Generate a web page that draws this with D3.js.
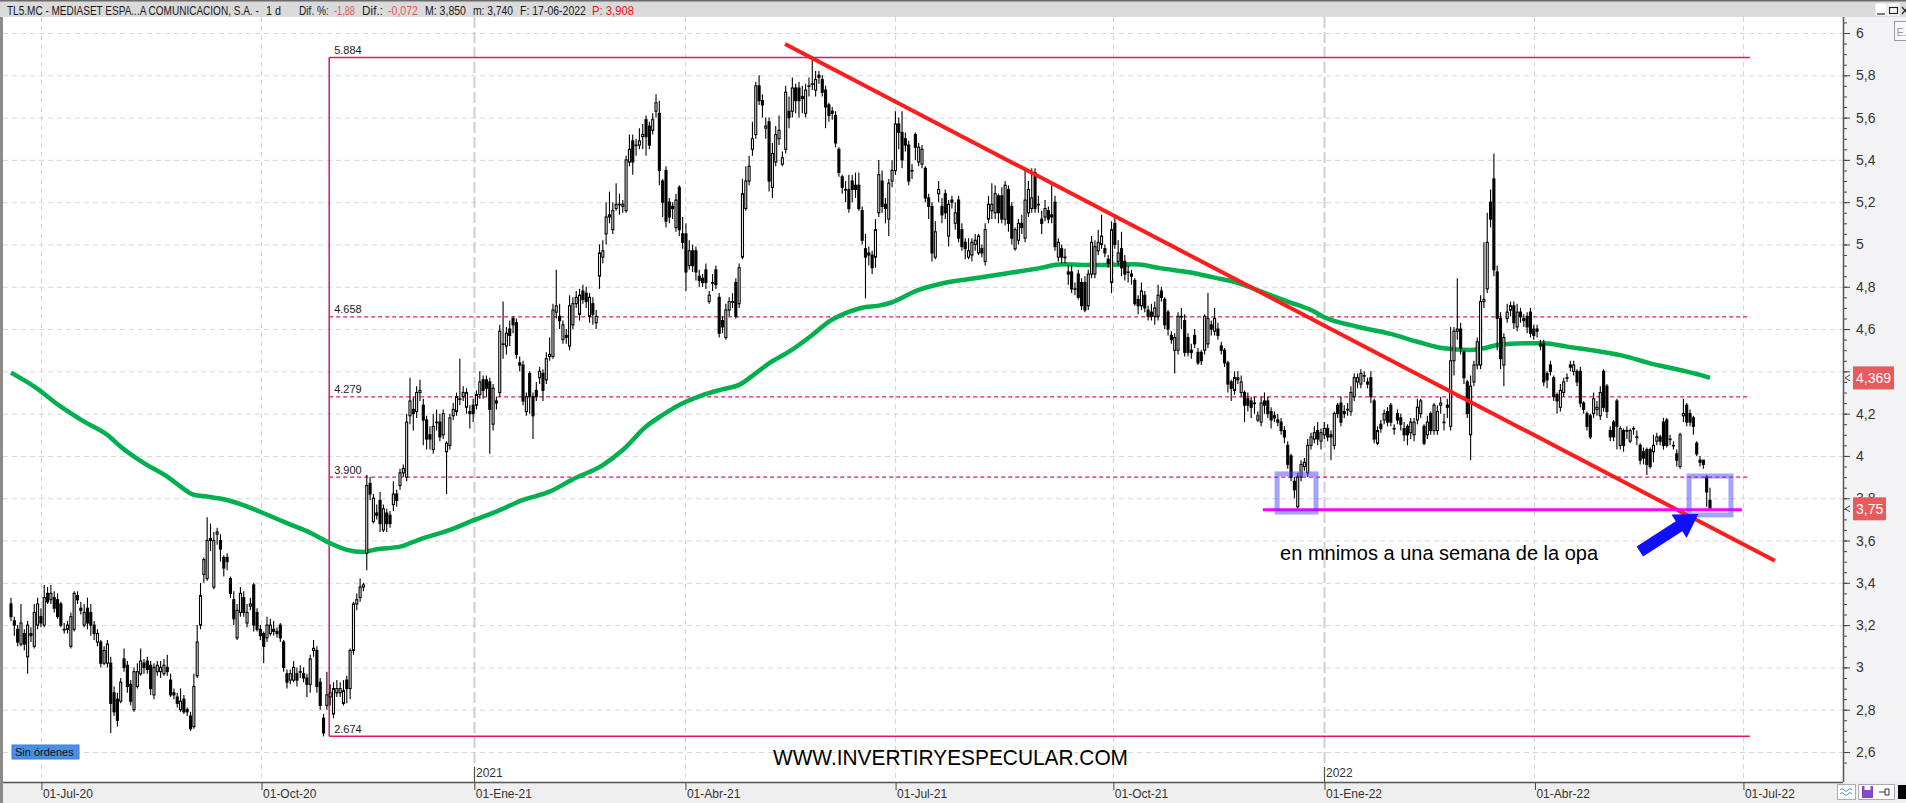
<!DOCTYPE html>
<html><head><meta charset="utf-8">
<script src="https://cdn.jsdelivr.net/npm/d3@7"></script>
<style>
html,body{margin:0;padding:0;background:#fff;overflow:hidden}
svg{display:block}
text{font-family:"Liberation Sans",Arial,sans-serif}
</style></head><body>
<svg id="c" width="1906" height="803"></svg>
<script>
// ---------- DATA (daily candles) ----------
const openP = [
3.30,3.22,3.18,3.11,3.16,3.05,3.16,3.10,3.20,3.24,
3.20,3.35,3.32,3.33,3.32,3.30,3.18,3.18,3.10,3.18,
3.34,3.28,3.20,3.28,3.26,3.20,3.12,3.12,3.02,3.02,
3.02,2.88,2.85,2.84,3.04,3.01,2.92,2.80,2.91,2.97,
3.02,3.03,3.01,2.87,2.98,2.98,2.97,3.00,2.94,2.88,
2.86,2.80,2.85,2.80,2.77,2.72,2.96,3.20,3.44,3.42,
3.60,3.38,3.63,3.60,3.52,3.52,3.42,3.32,3.14,3.26,
3.33,3.21,3.29,3.39,3.26,3.18,3.16,3.14,3.16,3.18,
3.17,3.20,3.12,2.97,2.94,2.94,2.97,2.98,2.97,2.95,
2.92,3.08,3.08,2.93,2.76,2.82,2.86,2.78,2.88,2.88,
2.83,2.94,2.90,3.08,3.30,3.33,3.38,3.54,3.87,3.69,
3.73,3.79,3.65,3.73,3.72,3.77,3.82,3.86,3.92,3.90,
4.19,4.22,4.21,4.30,4.24,4.17,4.10,4.03,4.16,4.16,
4.10,4.02,4.05,4.19,4.21,4.27,4.28,4.23,4.21,4.24,
4.24,4.29,4.36,4.36,4.35,4.15,4.26,4.30,4.53,4.52,
4.60,4.65,4.63,4.44,4.43,4.21,4.39,4.28,4.31,4.37,
4.39,4.36,4.47,4.47,4.68,4.66,4.55,4.57,4.52,4.62,
4.72,4.67,4.78,4.77,4.66,4.72,4.63,4.85,4.94,5.05,
5.13,5.07,5.17,5.19,5.18,5.16,5.39,5.49,5.47,5.47,
5.51,5.59,5.56,5.54,5.63,5.62,5.30,5.35,5.20,5.18,
5.08,5.27,5.05,5.05,4.90,4.97,4.97,4.85,4.84,4.88,
4.73,4.82,4.88,4.75,4.64,4.56,4.69,4.73,4.82,4.72,
4.94,5.17,5.30,5.45,5.52,5.75,5.68,5.55,5.58,5.27,
5.39,5.50,5.38,5.45,5.63,5.63,5.74,5.74,5.70,5.62,
5.75,5.76,5.73,5.80,5.78,5.73,5.66,5.63,5.61,5.45,
5.32,5.26,5.26,5.30,5.28,5.28,5.16,4.98,4.96,4.95,
4.94,5.15,5.30,5.19,5.12,5.30,5.35,5.57,5.53,5.50,
5.47,5.35,5.52,5.39,5.38,5.36,5.22,5.18,4.94,5.24,
5.18,5.24,5.04,5.21,5.10,5.21,5.07,5.01,4.94,4.95,
5.00,4.96,4.98,4.92,5.12,5.16,5.15,5.23,5.23,5.12,
5.26,5.18,4.98,5.02,5.10,5.03,5.15,5.17,5.34,5.19,
5.12,5.13,5.16,5.14,5.20,4.94,4.98,4.94,4.87,4.87,
4.79,4.86,4.82,4.82,4.71,4.86,4.86,4.97,5.00,4.98,
4.93,4.82,5.10,4.92,4.98,4.92,4.87,4.86,4.83,4.74,
4.71,4.76,4.69,4.68,4.66,4.66,4.78,4.74,4.68,4.57,
4.50,4.50,4.66,4.64,4.56,4.50,4.57,4.49,4.49,4.50,
4.53,4.62,4.59,4.60,4.52,4.50,4.44,4.35,4.31,4.37,
4.30,4.30,4.27,4.26,4.25,4.17,4.16,4.26,4.26,4.21,
4.19,4.17,4.16,4.12,4.05,4.00,3.88,3.76,3.90,3.95,
3.92,4.05,4.08,4.12,4.07,4.10,4.13,4.10,4.05,4.24,
4.25,4.21,4.22,4.21,4.28,4.35,4.34,4.38,4.35,4.37,
4.26,4.06,4.15,4.17,4.21,4.24,4.13,4.20,4.18,4.13,
4.14,4.11,4.10,4.17,4.20,4.14,4.10,4.20,4.12,4.12,
4.24,4.16,4.24,4.14,4.45,4.59,4.60,4.49,4.35,4.10,
4.35,4.43,4.43,4.73,4.79,5.20,5.31,4.87,4.65,4.43,
4.65,4.69,4.71,4.61,4.68,4.65,4.66,4.68,4.60,4.60,
4.53,4.53,4.39,4.43,4.37,4.29,4.23,4.30,4.37,4.43,
4.40,4.40,4.40,4.25,4.20,4.19,4.20,4.22,4.19,4.40,
4.33,4.12,4.16,4.26,4.05,4.12,4.12,4.07,4.13,4.09,
4.05,4.02,4.03,4.03,4.02,4.07,4.09,4.16,4.17,4.08,
4.05,4.01,3.95,4.19,4.24,4.20,4.18,4.06,3.98,3.98,
3.90,3.79];
const highP = [
3.33,3.24,3.20,3.30,3.18,3.22,3.19,3.30,3.33,3.28,
3.39,3.38,3.39,3.36,3.35,3.31,3.21,3.22,3.26,3.36,
3.36,3.31,3.30,3.33,3.30,3.22,3.18,3.13,3.10,3.13,
3.05,2.91,2.88,2.95,3.09,3.03,2.94,3.00,3.02,3.09,
3.04,3.05,3.03,3.02,3.03,3.03,3.04,3.06,2.97,2.90,
2.88,2.90,2.87,2.81,2.79,2.97,3.20,3.40,3.52,3.71,
3.68,3.64,3.66,3.63,3.53,3.54,3.43,3.36,3.30,3.38,
3.36,3.30,3.33,3.40,3.28,3.20,3.17,3.24,3.23,3.22,
3.19,3.21,3.13,2.99,2.99,3.03,3.00,3.01,3.00,2.97,
3.06,3.13,3.10,2.95,2.78,2.98,2.92,2.93,2.94,2.93,
2.94,2.96,3.09,3.31,3.35,3.42,3.40,3.91,3.90,3.82,
3.77,3.83,3.77,3.75,3.74,3.88,3.84,3.94,3.96,4.20,
4.37,4.28,4.33,4.36,4.27,4.19,4.14,4.20,4.22,4.20,
4.22,4.07,4.20,4.25,4.30,4.46,4.33,4.32,4.24,4.27,
4.31,4.40,4.38,4.38,4.37,4.34,4.28,4.62,4.73,4.61,
4.64,4.66,4.65,4.47,4.45,4.30,4.40,4.30,4.35,4.42,
4.41,4.49,4.56,4.72,4.88,4.72,4.64,4.60,4.76,4.75,
4.78,4.79,4.81,4.80,4.77,4.75,4.69,5.00,5.02,5.20,
5.25,5.20,5.29,5.24,5.21,5.42,5.52,5.52,5.50,5.55,
5.57,5.61,5.58,5.62,5.71,5.68,5.31,5.37,5.22,5.20,
5.24,5.28,5.13,5.10,5.02,5.00,4.99,4.88,4.86,4.91,
4.78,4.86,4.90,4.77,4.66,4.72,4.75,4.77,4.84,4.91,
5.31,5.37,5.42,5.58,5.77,5.80,5.71,5.60,5.60,5.48,
5.56,5.61,5.44,5.75,5.70,5.79,5.76,5.77,5.75,5.76,
5.79,5.884,5.82,5.82,5.80,5.75,5.67,5.65,5.63,5.46,
5.33,5.30,5.33,5.33,5.34,5.34,5.18,5.05,4.99,4.97,
5.12,5.40,5.35,5.22,5.31,5.40,5.63,5.60,5.63,5.53,
5.49,5.38,5.53,5.48,5.47,5.37,5.24,5.20,5.11,5.30,
5.22,5.26,5.21,5.23,5.20,5.23,5.10,5.03,5.03,5.03,
5.05,5.05,5.00,5.10,5.23,5.29,5.28,5.24,5.27,5.30,
5.28,5.20,5.08,5.12,5.14,5.36,5.30,5.36,5.36,5.23,
5.16,5.21,5.18,5.28,5.23,5.03,5.00,4.98,4.90,4.90,
4.82,4.88,4.84,4.85,4.88,5.04,5.02,5.07,5.14,5.00,
4.95,5.11,5.13,5.02,5.06,4.95,4.90,4.88,4.84,4.76,
4.82,4.78,4.71,4.72,4.73,4.81,4.80,4.75,4.69,4.59,
4.58,4.68,4.70,4.67,4.58,4.53,4.60,4.51,4.50,4.67,
4.77,4.64,4.70,4.63,4.54,4.51,4.45,4.36,4.40,4.40,
4.38,4.31,4.30,4.28,4.28,4.21,4.28,4.30,4.28,4.23,
4.21,4.20,4.18,4.14,4.07,4.01,3.90,3.92,3.98,3.99,
4.08,4.11,4.14,4.16,4.13,4.16,4.15,4.12,4.21,4.25,
4.28,4.24,4.25,4.33,4.39,4.39,4.41,4.40,4.37,4.40,
4.27,4.14,4.17,4.22,4.23,4.25,4.15,4.22,4.20,4.16,
4.15,4.18,4.18,4.27,4.27,4.15,4.19,4.21,4.25,4.24,
4.28,4.20,4.27,4.61,4.61,4.84,4.63,4.50,4.36,4.38,
4.45,4.56,4.76,5.01,5.15,5.26,5.43,4.90,4.68,4.58,
4.72,4.73,4.73,4.72,4.70,4.67,4.68,4.70,4.62,4.62,
4.55,4.55,4.40,4.45,4.38,4.30,4.34,4.37,4.39,4.45,
4.45,4.41,4.42,4.26,4.21,4.20,4.30,4.26,4.33,4.41,
4.34,4.14,4.17,4.27,4.14,4.13,4.14,4.13,4.14,4.12,
4.06,4.04,4.04,4.04,4.10,4.11,4.10,4.18,4.18,4.10,
4.07,4.03,4.11,4.27,4.25,4.22,4.19,4.07,4.00,3.98,
3.91,3.85];
const lowP = [
3.22,3.15,3.10,3.10,3.08,2.97,3.12,3.09,3.18,3.19,
3.19,3.30,3.30,3.26,3.23,3.19,3.16,3.16,3.09,3.17,
3.30,3.25,3.19,3.18,3.15,3.13,3.10,3.00,3.01,3.00,
2.69,2.77,2.72,2.83,2.98,2.88,2.82,2.79,2.90,2.96,
2.97,2.97,2.87,2.85,2.96,2.95,2.96,2.96,2.86,2.85,
2.81,2.79,2.78,2.77,2.70,2.71,2.95,3.18,3.40,3.41,
3.55,3.37,3.58,3.50,3.43,3.46,3.33,3.20,3.13,3.24,
3.24,3.19,3.27,3.17,3.17,3.13,3.02,3.12,3.15,3.15,
3.14,3.12,2.98,2.90,2.92,2.93,2.91,2.95,2.93,2.86,
2.88,3.05,2.88,2.80,2.674,2.80,2.82,2.76,2.86,2.86,
2.82,2.83,2.85,3.06,3.27,3.31,3.36,3.46,3.79,3.68,
3.70,3.64,3.64,3.64,3.66,3.74,3.76,3.84,3.90,3.88,
4.15,4.12,4.18,4.26,4.05,4.03,4.03,4.01,4.12,4.07,
4.08,3.82,4.03,4.17,4.19,4.24,4.26,4.20,4.13,4.16,
4.22,4.27,4.27,4.28,4.01,4.12,4.22,4.28,4.46,4.48,
4.52,4.58,4.46,4.40,4.24,4.19,4.20,4.08,4.26,4.34,
4.26,4.34,4.45,4.46,4.65,4.60,4.53,4.53,4.50,4.60,
4.70,4.64,4.72,4.70,4.63,4.62,4.60,4.79,4.91,5.00,
5.10,5.05,5.16,5.14,5.15,5.15,5.37,5.33,5.42,5.45,
5.45,5.42,5.45,5.52,5.60,5.28,5.13,5.08,5.10,5.12,
5.06,5.04,4.98,4.78,4.88,4.87,4.83,4.80,4.80,4.79,
4.72,4.78,4.79,4.56,4.58,4.55,4.66,4.70,4.65,4.70,
4.93,5.16,5.28,5.42,5.50,5.66,5.60,5.50,5.25,5.22,
5.37,5.47,5.37,5.43,5.55,5.60,5.62,5.60,5.62,5.60,
5.70,5.73,5.70,5.76,5.70,5.55,5.58,5.59,5.46,5.32,
5.24,5.20,5.15,5.20,5.22,5.16,5.00,4.745,4.90,4.86,
4.89,5.13,5.15,5.10,5.04,5.27,5.33,5.45,5.36,5.44,
5.28,5.31,5.40,5.37,5.36,5.20,5.12,4.92,4.93,5.20,
5.10,5.12,4.99,5.17,5.07,5.01,4.97,4.93,4.93,4.92,
4.97,4.95,4.94,4.90,5.10,5.12,5.12,5.10,5.10,5.09,
5.06,5.00,4.97,5.00,5.05,5.01,5.13,5.15,5.15,5.15,
5.05,5.11,5.10,5.10,4.97,4.92,4.91,4.91,4.81,4.77,
4.76,4.74,4.69,4.68,4.69,4.84,4.84,4.95,4.98,4.94,
4.89,4.77,4.98,4.90,4.85,4.83,4.82,4.81,4.71,4.67,
4.69,4.68,4.64,4.64,4.62,4.64,4.73,4.60,4.57,4.53,
4.39,4.48,4.60,4.47,4.47,4.46,4.51,4.43,4.43,4.48,
4.51,4.57,4.57,4.55,4.48,4.42,4.30,4.26,4.29,4.34,
4.28,4.16,4.21,4.18,4.20,4.16,4.14,4.20,4.18,4.13,
4.16,4.14,4.10,4.06,3.94,3.88,3.80,3.745,3.88,3.93,
3.90,4.03,4.06,4.05,4.03,4.08,4.07,3.98,4.03,4.18,
4.14,4.18,4.19,4.19,4.26,4.32,4.32,4.35,4.32,4.25,
4.06,4.05,4.11,4.15,4.14,4.14,4.10,4.15,4.12,4.07,
4.05,4.08,4.07,4.15,4.18,4.05,4.08,4.10,4.10,4.10,
4.20,4.12,4.18,4.12,4.38,4.55,4.48,4.34,4.18,3.98,
4.33,4.41,4.41,4.70,4.77,5.08,4.85,4.50,4.41,4.33,
4.63,4.66,4.60,4.59,4.63,4.61,4.58,4.56,4.55,4.56,
4.50,4.33,4.32,4.38,4.26,4.20,4.21,4.28,4.35,4.40,
4.38,4.33,4.23,4.20,4.12,4.08,4.18,4.19,4.17,4.21,
4.18,4.07,4.07,4.03,4.03,4.02,4.08,4.06,4.10,4.05,
3.96,3.96,3.91,3.94,3.97,4.05,4.05,4.03,4.04,4.05,
4.03,3.95,3.94,4.16,4.14,4.14,4.10,4.00,3.95,3.94,
3.76,3.74];
const closeP = [
3.24,3.20,3.12,3.21,3.11,3.20,3.15,3.26,3.30,3.21,
3.33,3.31,3.35,3.28,3.24,3.20,3.18,3.20,3.24,3.35,
3.32,3.27,3.26,3.21,3.20,3.16,3.16,3.02,3.08,3.11,
2.83,2.79,2.75,2.93,3.00,2.91,2.84,2.98,2.98,3.03,
3.00,2.99,2.90,3.00,3.01,3.00,3.01,2.98,2.87,2.87,
2.83,2.84,2.79,2.79,2.71,2.91,3.12,3.34,3.51,3.60,
3.61,3.60,3.64,3.56,3.47,3.50,3.35,3.23,3.27,3.35,
3.26,3.26,3.30,3.20,3.18,3.15,3.10,3.20,3.20,3.17,
3.16,3.14,3.00,2.93,2.97,3.00,2.94,2.98,2.95,2.92,
3.04,3.09,2.91,2.82,2.69,2.87,2.88,2.90,2.90,2.90,
2.89,2.90,3.08,3.30,3.32,3.38,3.39,3.86,3.82,3.80,
3.72,3.68,3.75,3.68,3.68,3.82,3.79,3.92,3.94,4.16,
4.26,4.20,4.30,4.31,4.17,4.08,4.08,4.14,4.16,4.09,
4.20,4.06,4.18,4.22,4.28,4.27,4.30,4.30,4.20,4.20,
4.29,4.35,4.31,4.32,4.22,4.32,4.25,4.59,4.53,4.58,
4.57,4.62,4.48,4.43,4.26,4.28,4.28,4.19,4.28,4.40,
4.31,4.46,4.48,4.69,4.71,4.64,4.62,4.56,4.71,4.72,
4.75,4.76,4.74,4.73,4.75,4.67,4.66,4.96,4.97,5.13,
5.14,5.16,5.19,5.19,5.19,5.40,5.45,5.39,5.47,5.49,
5.52,5.51,5.47,5.59,5.67,5.35,5.20,5.11,5.13,5.17,
5.21,5.07,5.01,4.87,4.97,4.90,4.87,4.83,4.82,4.82,
4.76,4.82,4.81,4.58,4.61,4.69,4.73,4.73,4.66,4.89,
5.24,5.30,5.37,5.50,5.75,5.68,5.66,5.56,5.30,5.43,
5.52,5.54,5.41,5.72,5.60,5.74,5.68,5.68,5.69,5.73,
5.75,5.76,5.78,5.79,5.72,5.65,5.61,5.62,5.48,5.34,
5.27,5.26,5.17,5.26,5.26,5.17,5.02,4.94,4.95,4.89,
5.07,5.33,5.18,5.17,5.29,5.35,5.57,5.53,5.40,5.47,
5.30,5.35,5.46,5.46,5.45,5.22,5.18,4.96,5.06,5.26,
5.14,5.15,5.19,5.20,5.15,5.03,4.99,4.98,4.97,5.01,
5.02,5.04,4.96,5.07,5.19,5.19,5.24,5.15,5.12,5.28,
5.10,5.03,5.07,5.10,5.08,5.21,5.26,5.22,5.17,5.19,
5.10,5.17,5.12,5.13,4.99,5.01,4.94,4.94,4.86,4.79,
4.79,4.75,4.71,4.69,4.86,5.01,4.99,5.01,5.04,4.96,
4.91,5.07,5.00,4.96,4.89,4.86,4.87,4.85,4.72,4.71,
4.78,4.70,4.66,4.66,4.70,4.76,4.75,4.62,4.60,4.55,
4.56,4.66,4.66,4.49,4.49,4.49,4.53,4.44,4.45,4.66,
4.65,4.60,4.65,4.57,4.50,4.44,4.34,4.32,4.37,4.36,
4.35,4.24,4.24,4.23,4.25,4.19,4.25,4.24,4.20,4.17,
4.18,4.16,4.12,4.09,3.96,3.90,3.84,3.90,3.96,3.97,
4.05,4.09,4.11,4.08,4.11,4.13,4.09,4.09,4.20,4.20,
4.16,4.20,4.22,4.30,4.37,4.37,4.39,4.38,4.34,4.28,
4.08,4.12,4.13,4.20,4.16,4.16,4.13,4.17,4.15,4.10,
4.10,4.16,4.16,4.23,4.26,4.06,4.16,4.12,4.24,4.21,
4.25,4.16,4.23,4.45,4.59,4.60,4.51,4.37,4.20,4.33,
4.43,4.54,4.73,4.74,5.01,5.12,4.88,4.65,4.46,4.56,
4.68,4.71,4.63,4.68,4.66,4.64,4.61,4.58,4.57,4.59,
4.52,4.35,4.36,4.40,4.28,4.26,4.31,4.35,4.37,4.42,
4.43,4.35,4.25,4.22,4.14,4.09,4.27,4.23,4.30,4.23,
4.21,4.09,4.09,4.14,4.13,4.05,4.12,4.12,4.13,4.09,
3.98,3.99,3.96,3.95,4.05,4.09,4.07,4.05,4.05,4.08,
4.05,3.98,4.10,4.20,4.16,4.16,4.14,4.01,3.97,3.96,
3.83,3.75];

// moving average (green), read at sample points: candle index / value
const maIdx = [0,7,15,22,29,33,40,47,51,55,59,64,69,76,83,90,96,101,106,110,117,123,132,140,146,154,162,169,178,184,191,196,202,208,214,219,224,228,234,241,246,251,256,261,264,273,281,290,301,309,316,326,338,346,356,362,369,376,384,391,395,405,415,423,431,439,443,447,455,461,468,475,485,493,501,508,511];
const maVal = [4.394,4.328,4.233,4.162,4.099,4.044,3.966,3.902,3.855,3.816,3.808,3.795,3.772,3.729,3.682,3.637,3.587,3.556,3.546,3.559,3.571,3.606,3.650,3.701,3.737,3.792,3.831,3.890,3.957,4.028,4.139,4.194,4.249,4.288,4.315,4.336,4.391,4.438,4.493,4.572,4.635,4.675,4.701,4.711,4.722,4.785,4.819,4.840,4.867,4.887,4.906,4.903,4.906,4.887,4.864,4.843,4.819,4.777,4.730,4.690,4.656,4.611,4.577,4.540,4.509,4.501,4.509,4.525,4.533,4.533,4.517,4.501,4.473,4.438,4.410,4.383,4.369];

// axes
const xTickIdx = [9, 75.2, 139.2, 202.7, 265.9, 331.4, 394.9, 458.2, 520.9];
const xTickLabels = ["01-Jul-20","01-Oct-20","01-Ene-21","01-Abr-21","01-Jul-21","01-Oct-21","01-Ene-22","01-Abr-22","01-Jul-22"];
const yearIdx = [139.2, 394.9];
const yearLabels = ["2021","2022"];
const yTickVals = [2.6,2.8,3.0,3.2,3.4,3.6,3.8,4.0,4.2,4.4,4.6,4.8,5.0,5.2,5.4,5.6,5.8,6.0];

// annotations (data units)
const fibLevels = [5.884, 4.658, 4.279, 3.900, 2.674];
const fibLabels = ["5.884","4.658","4.279","3.900","2.674"];
const fibFromIdx = 95.7, fibToIdx = 523;
const trendIdx = [232.8, 530.5], trendVal = [5.948, 3.504];
const supportIdx = [376.5, 520.6], supportVal = 3.745;
const boxIdx0 = [380.8, 504.7], boxIdx1 = [392.5, 517.3], boxLo = [3.735, 3.721], boxHi = [3.915, 3.905];
const arrowFrom = [489.9, 3.548], arrowTo = [507.5, 3.726];
const noteText = "en mnimos a una semana de la opa", noteAt = [381.7, 3.508];
const priceTags = [{v:4.369, t:"4,369"}, {v:3.75, t:"3,75"}];

// ---------- DRAWING ----------
const W = 1906, H = 803;
const plotL = 3, plotR = 1843, plotT = 17, plotB = 782;
const svg = d3.select("#c");
const x = d3.scaleLinear().domain([0, 511]).range([11, 1710]);
const y = d3.scaleLinear().domain([2.6, 6]).range([752, 33]);

svg.append("rect").attr("width",W).attr("height",H).attr("fill","#fff");
svg.append("defs").append("clipPath").attr("id","pc").append("rect")
  .attr("x",plotL).attr("y",plotT).attr("width",plotR-plotL).attr("height",plotB-plotT);
const P = svg.append("g").attr("clip-path","url(#pc)");

// grid
P.append("g").selectAll("line").data(yTickVals).join("line")
  .attr("x1",plotL).attr("x2",plotR).attr("y1",d=>y(d)+0.5).attr("y2",d=>y(d)+0.5)
  .attr("stroke","#d6d6d6").attr("stroke-dasharray","5,4");
P.append("g").selectAll("line").data(xTickIdx).join("line")
  .attr("x1",d=>Math.round(x(d))+0.5).attr("x2",d=>Math.round(x(d))+0.5)
  .attr("y1",plotT).attr("y2",plotB)
  .attr("stroke", d=>yearIdx.includes(d) ? "#cfcfcf" : "#d6d6d6")
  .attr("stroke-width", d=>yearIdx.includes(d) ? 2 : 1)
  .attr("stroke-dasharray", d=>yearIdx.includes(d) ? "11,4" : "5,4");

// fib levels
const fibCol = "#e0166e";
P.append("line").attr("x1",x(fibFromIdx)).attr("x2",x(fibFromIdx))
  .attr("y1",y(fibLevels[0])).attr("y2",y(fibLevels[4])).attr("stroke",fibCol).attr("stroke-width",1.5);
P.append("g").selectAll("line").data(fibLevels).join("line")
  .attr("x1",x(fibFromIdx)).attr("x2",x(fibToIdx))
  .attr("y1",d=>y(d)).attr("y2",d=>y(d))
  .attr("stroke",fibCol).attr("stroke-width",(d,i)=> (i===0||i===4)?1.5:1.3)
  .attr("stroke-dasharray",(d,i)=> (i===0||i===4)?null:"4,3");
P.append("g").selectAll("text").data(fibLevels).join("text")
  .attr("x",x(fibFromIdx)+5).attr("y",d=>y(d)-3.5)
  .attr("font-size",11).attr("fill","#1a1a1a").text((d,i)=>fibLabels[i]);

// moving average
const maPts = maIdx.map((d,i)=>[x(d), y(maVal[i])]);
P.append("path").attr("d", d3.line().curve(d3.curveMonotoneX)(maPts))
  .attr("fill","none").attr("stroke","#00b04f").attr("stroke-width",4.5);

// candles
const cg = P.append("g");
const idx = d3.range(closeP.length);
cg.selectAll("line").data(idx).join("line")
  .attr("x1",i=>x(i)).attr("x2",i=>x(i))
  .attr("y1",i=>y(highP[i])).attr("y2",i=>y(lowP[i]))
  .attr("stroke","#000").attr("stroke-width",1.1);
cg.selectAll("rect").data(idx).join("rect")
  .attr("x",i=>x(i)-1).attr("width",2)
  .attr("y",i=>y(Math.max(openP[i],closeP[i])))
  .attr("height",i=>Math.max(0.6, Math.abs(y(openP[i])-y(closeP[i]))))
  .attr("fill",i=> closeP[i]>=openP[i] ? "#fff" : "#000")
  .attr("stroke","#000").attr("stroke-width",1.1);

// trend line
P.append("line").attr("x1",x(trendIdx[0])).attr("y1",y(trendVal[0]))
  .attr("x2",x(trendIdx[1])).attr("y2",y(trendVal[1]))
  .attr("stroke","#ff1c1c").attr("stroke-width",4);
// support line
P.append("line").attr("x1",x(supportIdx[0])).attr("x2",x(supportIdx[1]))
  .attr("y1",y(supportVal)).attr("y2",y(supportVal))
  .attr("stroke","#ff00ff").attr("stroke-width",3);
// boxes
P.append("g").selectAll("rect").data(boxIdx0).join("rect")
  .attr("x",(d,i)=>x(d)).attr("width",(d,i)=>x(boxIdx1[i])-x(d))
  .attr("y",(d,i)=>y(boxHi[i])).attr("height",(d,i)=>y(boxLo[i])-y(boxHi[i]))
  .attr("fill","none").attr("stroke","rgb(70,70,255)").attr("stroke-opacity",0.5).attr("stroke-width",5);
// arrow
{
  const p0=[x(arrowFrom[0]),y(arrowFrom[1])], p1=[x(arrowTo[0]),y(arrowTo[1])];
  const dx=p1[0]-p0[0], dy=p1[1]-p0[1], L=Math.hypot(dx,dy);
  const u=[dx/L,dy/L], n=[-u[1],u[0]];
  const hl=23, hw=14, sw=6;
  const b=[p1[0]-u[0]*hl, p1[1]-u[1]*hl];
  const pt=(o,k)=>[o[0]+n[0]*k, o[1]+n[1]*k];
  const poly=[pt(p0,sw),pt(b,sw),pt(b,hw),p1,pt(b,-hw),pt(b,-sw),pt(p0,-sw)];
  P.append("polygon").attr("points",poly.map(p=>p.join(",")).join(" ")).attr("fill","#1010ff");
}
// note text
P.append("text").attr("x",x(noteAt[0])).attr("y",y(noteAt[1]))
  .attr("font-size",20).attr("fill","#000").text(noteText);
// watermark
P.append("text").attr("x",773).attr("y",765).attr("font-size",22).attr("fill","#000")
  .attr("textLength",355).attr("lengthAdjust","spacingAndGlyphs").text("WWW.INVERTIRYESPECULAR.COM");
// Sin órdenes
svg.append("rect").attr("x",12).attr("y",745).attr("width",67).attr("height",14).attr("fill","#4a90e2").attr("stroke","#3a7fd0");
svg.append("text").attr("x",15).attr("y",756).attr("font-size",11).attr("fill","#111").text("Sin órdenes");

// ----- right axis panel -----
svg.append("rect").attr("x",plotR).attr("y",plotT).attr("width",W-plotR).attr("height",plotB-plotT).attr("fill","#f3f3f5");
const ya = svg.append("g").attr("transform",`translate(${plotR},0)`);
ya.call(d3.axisRight(y).tickValues(d3.range(2.55,6.06,0.05)).tickSize(4).tickFormat(""));
ya.call(g=>g.select(".domain").remove());
// labels hidden behind a price tag in the reference are not drawn
const shownTicks = yTickVals.filter(v => !priceTags.some(p => Math.abs(p.v - v) < 0.04));
const yb = svg.append("g").attr("transform",`translate(${plotR},0)`);
yb.call(d3.axisRight(y).tickValues(yTickVals).tickSize(7).tickPadding(6)
  .tickFormat(d=> shownTicks.includes(d) ? String(+d.toFixed(1)).replace(".",",") : ""));
yb.select(".domain").remove();
svg.selectAll(".tick line").attr("stroke","#444");
yb.selectAll("text").attr("font-size",14).attr("fill","#333").attr("font-family","Liberation Sans, Arial, sans-serif");
svg.append("line").attr("x1",plotR+0.5).attr("x2",plotR+0.5).attr("y1",plotT).attr("y2",plotB).attr("stroke","#555").attr("stroke-width",1.5);
// price tags
priceTags.forEach(p=>{
  const cy=y(p.v);
  const w = p.t.length>4 ? 41 : 33;
  svg.append("rect").attr("x",1853).attr("y",cy-11.5).attr("width",w).attr("height",23).attr("fill","#e85a5c");
  svg.append("text").attr("x",1856).attr("y",cy+5).attr("font-size",14).attr("fill","#fff").text(p.t);
  svg.append("path").attr("d",`M1850,${cy-3} L1845,${cy} L1850,${cy+3}`).attr("fill","none").attr("stroke","#444");
});
// E. box
svg.append("rect").attr("x",1894.5).attr("y",21.5).attr("width",14).attr("height",19).attr("fill","#f8f8f8").attr("stroke","#9a9a9a");
svg.append("text").attr("x",1896.5).attr("y",36).attr("font-size",11).attr("fill","#999").text("E.");

// ----- bottom axis panel -----
svg.append("rect").attr("x",0).attr("y",plotB).attr("width",W).attr("height",H-plotB).attr("fill","#efefef");
const xa = svg.append("g").attr("transform",`translate(0,${plotB})`);
xa.call(d3.axisBottom(x).tickValues(xTickIdx).tickSize(8).tickFormat((d,i)=>xTickLabels[i]));
xa.select(".domain").remove();
xa.selectAll(".tick line").attr("stroke","#444").attr("transform","translate(0.5,0)");
xa.selectAll("text").attr("text-anchor","start").attr("x",1.5).attr("y",7).attr("dy","0.71em")
  .attr("font-size",12).attr("fill","#333").attr("font-family","Liberation Sans, Arial, sans-serif");
svg.append("line").attr("x1",0).attr("x2",plotR).attr("y1",plotB+0.5).attr("y2",plotB+0.5).attr("stroke","#555").attr("stroke-width",1.5);
// year markers
svg.append("g").selectAll("line").data(yearIdx).join("line")
  .attr("x1",d=>Math.round(x(d))+0.5).attr("x2",d=>Math.round(x(d))+0.5).attr("y1",767).attr("y2",plotB).attr("stroke","#555");
svg.append("g").selectAll("text").data(yearIdx).join("text")
  .attr("x",d=>Math.round(x(d))+2).attr("y",777).attr("font-size",12).attr("fill","#333").text((d,i)=>yearLabels[i]);
// bottom-right icons
svg.append("rect").attr("x",1837.5).attr("y",784.5).attr("width",18).attr("height",15).attr("fill","#fff").attr("stroke","#aab");
svg.append("path").attr("d","M1840,790 q2,-3 4,0 t4,0 t4,0 M1840,794 q2,-3 4,0 t4,0 t4,0").attr("fill","none").attr("stroke","#4a8fd8");
svg.append("rect").attr("x",1858.5).attr("y",784.5).attr("width",36).attr("height",15).attr("fill","#fff").attr("stroke","#aab");
svg.append("rect").attr("x",1862).attr("y",786).attr("width",11).attr("height",12).attr("fill","#8a46c8");
svg.append("rect").attr("x",1864.5).attr("y",786).attr("width",6).attr("height",4).attr("fill","#fff");
svg.append("path").attr("d","M1879,792 h6 M1885,789 v6 h4 v-6 z").attr("fill","none").attr("stroke","#333");
svg.append("rect").attr("x",1898).attr("y",785).attr("width",8).attr("height",14).attr("fill","#000");

// left border
svg.append("rect").attr("x",0).attr("y",plotT).attr("width",3).attr("height",H-plotT).attr("fill","#8e8a88");

// ----- header -----
svg.append("rect").attr("x",0).attr("y",0).attr("width",W).attr("height",plotT).attr("fill","#dadada");
svg.append("rect").attr("x",0).attr("y",0).attr("width",W).attr("height",1.5).attr("fill","#6a6a6a");
const headerParts = [
  {t:"TL5.MC - MEDIASET ESPA...A COMUNICACION, S.A. -", x:7, w:252, c:"#1a1a1a"},
  {t:"1 d", x:266, w:15, c:"#1a1a1a"},
  {t:"Dif. %:", x:299, w:30, c:"#1a1a1a"},
  {t:"-1,88", x:334, w:21, c:"#e05a5a"},
  {t:"Dif.:", x:362, w:21, c:"#1a1a1a"},
  {t:"-0,072", x:388, w:30, c:"#e05a5a"},
  {t:"M: 3,850", x:425, w:41, c:"#1a1a1a"},
  {t:"m: 3,740", x:473, w:40, c:"#1a1a1a"},
  {t:"F: 17-06-2022", x:520, w:66, c:"#1a1a1a"},
  {t:"P: 3,908", x:592, w:42, c:"#ee1111"}
];
// each piece is drawn at 12px and squeezed horizontally to the width it has in the reference
svg.append("g").selectAll("text").data(headerParts).join("text")
  .attr("x",0).attr("y",0).attr("font-size",12).attr("fill",d=>d.c)
  .text(d=>d.t)
  .each(function(d){
    const w0 = this.getComputedTextLength() || d.w;
    d3.select(this).attr("transform",`translate(${d.x},14.5) scale(${d.w/w0},1)`);
  });
// window buttons
svg.append("rect").attr("x",1875.5).attr("y",3.5).attr("width",11).attr("height",12).attr("fill","#fff");
svg.append("rect").attr("x",1887.5).attr("y",3.5).attr("width",12).attr("height",12).attr("fill","#fff");
svg.append("line").attr("x1",1877).attr("x2",1885).attr("y1",14).attr("y2",14).attr("stroke","#222").attr("stroke-width",1.2);
svg.append("rect").attr("x",1889.5).attr("y",7.5).attr("width",8).attr("height",6).attr("fill","none").attr("stroke","#222").attr("stroke-width",1.2);
svg.append("path").attr("d","M1902,7 L1908,14 M1908,7 L1902,14").attr("stroke","#222").attr("stroke-width",1.2);
</script>
</body></html>
